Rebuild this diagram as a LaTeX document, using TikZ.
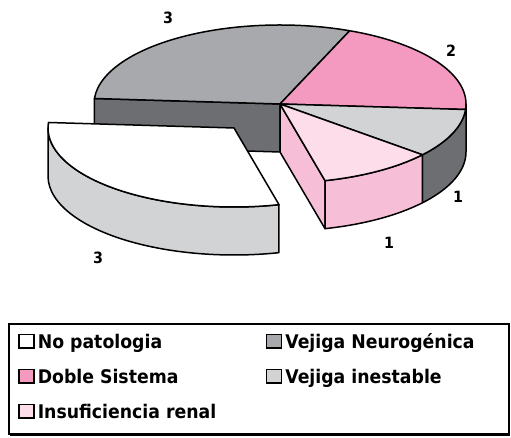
\documentclass[tikz,border=0pt]{standalone}
\usepackage{fontspec}
\setmainfont{DejaVu Sans}[FakeStretch=0.92]
\usetikzlibrary{positioning}

\definecolor{grisTop}{HTML}{A7A9AC}
\definecolor{grisOsc}{HTML}{6D6E71}
\definecolor{rosa}{HTML}{F49AC1}
\definecolor{grisClaro}{HTML}{D1D3D4}
\definecolor{rosaClaro}{HTML}{FCDDE9}
\definecolor{rosaLado}{HTML}{F7BED7}

\tikzset{
  cara/.style={draw=black, line width=1.5pt, line join=round},
  elipse/.style={x radius=186pt, y radius=79pt},
  cifra/.style={font=\bfseries\fontsize{15.5}{16}\selectfont},
  cuadro/.style={draw=black, line width=1.6pt, minimum width=15pt, minimum height=13.5pt, inner sep=0pt, anchor=south west},
  leyenda/.style={font=\bfseries\fontsize{18.8}{19}\selectfont, inner sep=0pt},
}

\begin{document}
\begin{tikzpicture}[x=1pt,y=1pt]
        \useasboundingbox (0,0) rectangle (511,438);
        \coordinate (c) at (280,334);
        \coordinate (cb) at (280,286);
        \coordinate (e) at (234,310);
        % cut faces and sides
        \draw[cara, fill=grisOsc] (c) -- ++(176:186pt and 79pt) -- ++(0,-48) -- (cb) -- cycle;
        \draw[cara, fill=rosaLado] (c) -- ++(-76:186pt and 79pt) -- ++(0,-48) -- (cb) -- cycle;
        \draw[cara, fill=grisOsc] ([shift={(0:186pt and 79pt)}]c) arc[start angle=0, end angle=-40, elipse]
              -- ++(0,-48) arc[start angle=-40, end angle=0, elipse] -- cycle;
        \draw[cara, fill=rosaLado] ([shift={(-40:186pt and 79pt)}]c) arc[start angle=-40, end angle=-76, elipse]
              -- ++(0,-48) arc[start angle=-76, end angle=-40, elipse] -- cycle;
        % top faces
        \draw[cara, fill=grisTop] (c) -- ++(176:186pt and 79pt) arc[start angle=176, end angle=68, elipse] -- cycle;
        \draw[cara, fill=rosa] (c) -- ++(68:186pt and 79pt) arc[start angle=68, end angle=-4, elipse] -- cycle;
        \draw[cara, fill=grisClaro] (c) -- ++(-4:186pt and 79pt) arc[start angle=-4, end angle=-40, elipse] -- cycle;
        \draw[cara, fill=rosaClaro] (c) -- ++(-40:186pt and 79pt) arc[start angle=-40, end angle=-76, elipse] -- cycle;
        % slice pulled out
        \draw[cara, fill=grisClaro] ([shift={(-76:186pt and 79pt)}]e) arc[start angle=-76, end angle=-180, elipse]
              -- ++(0,-48) arc[start angle=-180, end angle=-76, elipse] -- cycle;
        \draw[cara, fill=white] (e) -- ++(-76:186pt and 79pt) arc[start angle=-76, end angle=-184, elipse] -- cycle;

        \node[cifra] (tres1) at (168,420) {3};
        \node[cifra] (dos) at (451,387) {2};
        \node[cifra] (uno1) at (458,241) {1};
        \node[cifra] (uno2) at (389,195) {1};
        \node[cifra] (tres2) at (98,180) {3};

        % legend
        \fill (10,1.5) rectangle (510,4);
        \draw[line width=1.5pt, fill=white] (9,4) rectangle (509,114);
        \node[cuadro, fill=white] (cNo) at (18,89) {};
        \node[leyenda, right=3pt of cNo.south east, anchor=base west] (tNo) {No patologia};
        \node[cuadro, fill=rosa] (cDoble) at (18,54) {};
        \node[leyenda, right=3pt of cDoble.south east, anchor=base west] (tDoble) {Doble Sistema};
        \node[cuadro, fill=rosaClaro] (cInsu) at (18,19) {};
        \node[leyenda, right=3pt of cInsu.south east, anchor=base west] (tInsu) {Insuficiencia renal};
        \node[cuadro, fill=grisTop] (cNeuro) at (265.5,89) {};
        \node[leyenda, right=3pt of cNeuro.south east, anchor=base west] (tNeuro) {Vejiga Neurogénica};
        \node[cuadro, fill=grisClaro] (cInes) at (265.5,54) {};
        \node[leyenda, right=3pt of cInes.south east, anchor=base west] (tInes) {Vejiga inestable};
      \end{tikzpicture}
\end{document}
